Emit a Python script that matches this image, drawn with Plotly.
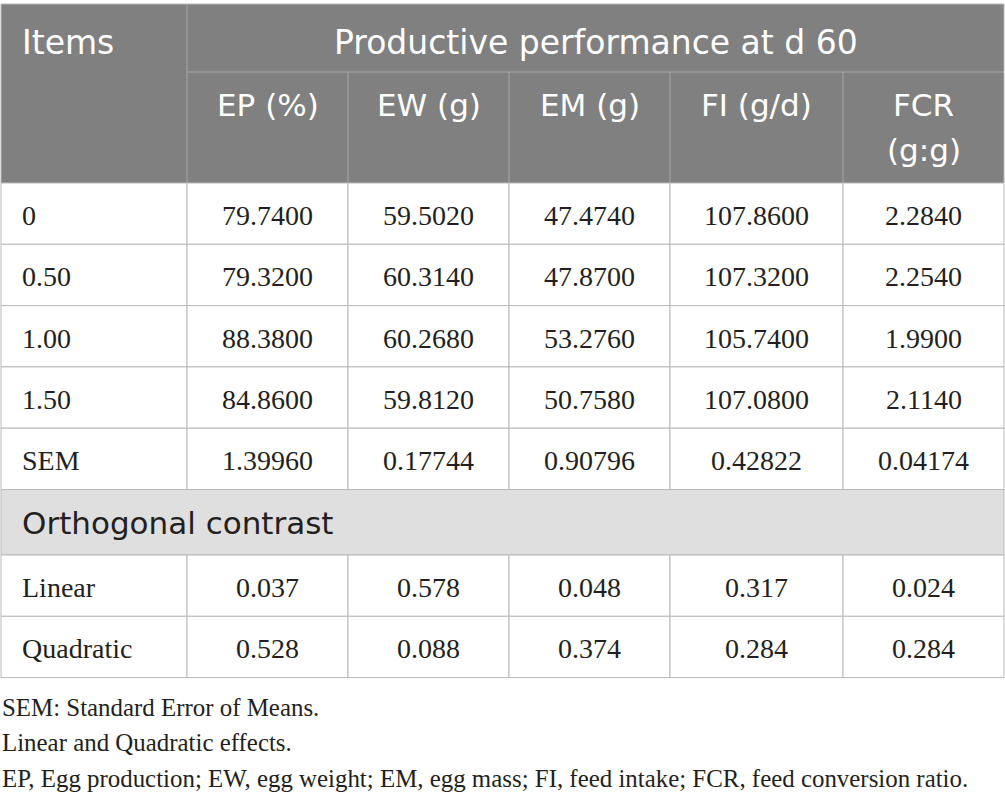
import plotly.graph_objects as go

# ---------------- data ----------------
title_items = "Items"
title_group = "Productive performance at d 60"
col_headers = ["EP (%)", "EW (g)", "EM (g)", "FI (g/d)", "FCR<br>(g:g)"]

items = ["0", "0.50", "1.00", "1.50", "SEM"]
ep = ["79.7400", "79.3200", "88.3800", "84.8600", "1.39960"]
ew = ["59.5020", "60.3140", "60.2680", "59.8120", "0.17744"]
em = ["47.4740", "47.8700", "53.2760", "50.7580", "0.90796"]
fi = ["107.8600", "107.3200", "105.7400", "107.0800", "0.42822"]
fcr = ["2.2840", "2.2540", "1.9900", "2.1140", "0.04174"]

section_label = "Orthogonal contrast"
contrast_items = ["Linear", "Quadratic"]
ep_p = ["0.037", "0.528"]
ew_p = ["0.578", "0.088"]
em_p = ["0.048", "0.374"]
fi_p = ["0.317", "0.284"]
fcr_p = ["0.024", "0.284"]

footnotes = [
    "SEM: Standard Error of Means.",
    "Linear and Quadratic effects.",
    "EP, Egg production; EW, egg weight; EM, egg mass; FI, feed intake; FCR, feed conversion ratio.",
]

# ---------------- geometry / style ----------------
W, H = 1005, 805
col_x = [1, 187, 348, 509, 670, 843, 1004]
y_top, y_h1, y_h2 = 4, 72, 183
data_row_h = 61.3
orth_h = 65.5
contrast_row_h = 61.3

HEADER_FILL = "#808080"
HEADER_LINE = "#a8a8a8"
BORDER = "#b9b9b9"
SECTION_FILL = "#e0dfe0"
TEXT = "#231f20"
SANS = "DejaVu Sans"
SERIF = "Liberation Serif"

shapes = []
annotations = []


def rect(x0, y0, x1, y1, fill, line=BORDER, lw=1):
    shapes.append(dict(type="rect", xref="x", yref="y", x0=x0, y0=y0, x1=x1, y1=y1,
                       fillcolor=fill, line=dict(color=line, width=lw), layer="below"))


def hline(x0, x1, y, color, lw=1):
    shapes.append(dict(type="line", xref="x", yref="y", x0=x0, x1=x1, y0=y, y1=y,
                       line=dict(color=color, width=lw), layer="above"))


def vline(x, y0, y1, color, lw=1):
    shapes.append(dict(type="line", xref="x", yref="y", x0=x, x1=x, y0=y0, y1=y1,
                       line=dict(color=color, width=lw), layer="above"))


def text(x, y, s, font, size, color, xanchor="center"):
    annotations.append(dict(x=x, y=y, xref="x", yref="y", text=s, showarrow=False,
                            xanchor=xanchor, yanchor="middle",
                            font=dict(family=font, size=size, color=color)))


# header block
rect(col_x[0], y_top, col_x[-1], y_h2, HEADER_FILL, line=HEADER_FILL, lw=0)
hline(col_x[0], col_x[-1], y_top, BORDER)
vline(col_x[0], y_top, y_h2, BORDER)
vline(col_x[-1], y_top, y_h2, BORDER)
hline(col_x[1], col_x[-1], y_h1, HEADER_LINE)
vline(col_x[1], y_top, y_h2, HEADER_LINE)
for cx in col_x[2:-1]:
    vline(cx, y_h1, y_h2, HEADER_LINE)

text(col_x[0] + 19, 42, title_items, SANS, 33, "white", xanchor="left")
text((col_x[1] + col_x[-1]) / 2, 42, title_group, SANS, 33, "white")
for i, h in enumerate(col_headers):
    cx = (col_x[i + 1] + col_x[i + 2]) / 2
    for k, part in enumerate(h.split("<br>")):
        text(cx, 105 + 45 * k, part, SANS, 31, "white")

# data rows
value_cols = [ep, ew, em, fi, fcr]
y = y_h2
for r, it in enumerate(items):
    y0, y1 = y, y + data_row_h
    for c in range(6):
        rect(col_x[c], y0, col_x[c + 1], y1, "white")
    ym = (y0 + y1) / 2 + 2
    text(col_x[0] + 19, ym, it, SERIF, 28, TEXT, xanchor="left")
    for c, col in enumerate(value_cols):
        text((col_x[c + 1] + col_x[c + 2]) / 2, ym, col[r], SERIF, 28, TEXT)
    y = y1

# section row
rect(col_x[0], y, col_x[-1], y + orth_h, SECTION_FILL)
text(col_x[0] + 19, y + orth_h / 2 + 1, section_label, SANS, 31, TEXT, xanchor="left")
y += orth_h

# contrast rows
p_cols = [ep_p, ew_p, em_p, fi_p, fcr_p]
for r, it in enumerate(contrast_items):
    y0, y1 = y, y + contrast_row_h
    for c in range(6):
        rect(col_x[c], y0, col_x[c + 1], y1, "white")
    ym = (y0 + y1) / 2 + 2
    text(col_x[0] + 19, ym, it, SERIF, 28, TEXT, xanchor="left")
    for c, col in enumerate(p_cols):
        text((col_x[c + 1] + col_x[c + 2]) / 2, ym, col[r], SERIF, 28, TEXT)
    y = y1

# footnotes
for k, fn in enumerate(footnotes):
    text(0, 707 + 35.5 * k, fn, SERIF, 24.9, TEXT, xanchor="left")

fig = go.Figure()
fig.add_trace(go.Scatter(x=[0, W], y=[0, H], mode="markers",
                         marker=dict(opacity=0), hoverinfo="skip", showlegend=False))
fig.update_layout(
    width=W, height=H,
    margin=dict(l=0, r=0, t=0, b=0),
    paper_bgcolor="white", plot_bgcolor="white",
    xaxis=dict(range=[0, W], visible=False, fixedrange=True),
    yaxis=dict(range=[H, 0], visible=False, fixedrange=True),
    shapes=shapes, annotations=annotations, showlegend=False,
)
fig.write_html("out.html", config={"displayModeBar": False},
               post_script="document.body.style.margin='0';document.body.style.overflow='hidden';")
